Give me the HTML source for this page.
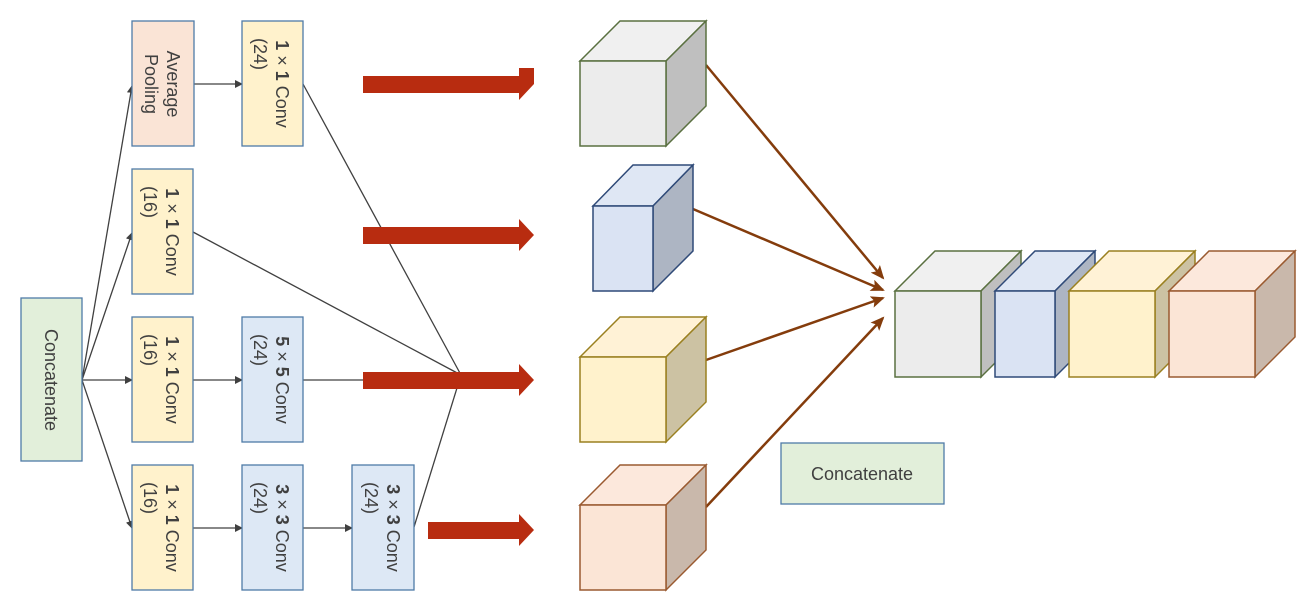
<!DOCTYPE html>
<html><head><meta charset="utf-8"><style>
html,body{margin:0;padding:0;background:#fff;}
svg{display:block;font-family:"Liberation Sans","DejaVu Sans",sans-serif;}
</style></head><body>
<svg width="1311" height="607" viewBox="0 0 1311 607" xmlns="http://www.w3.org/2000/svg">
<defs>
<marker id="ah" markerWidth="8" markerHeight="8" refX="7" refY="4" orient="auto" markerUnits="userSpaceOnUse"><path d="M0,0 L8,4 L0,8 z" fill="#404040"/></marker>
<marker id="bh" markerWidth="14" markerHeight="12" refX="12" refY="6" orient="auto" markerUnits="userSpaceOnUse"><path d="M0,0 L14,6 L0,12 L3,6 z" fill="#843c0c"/></marker>
</defs>
<!-- black connectors -->
<g stroke="#404040" stroke-width="1.3" fill="none">
<line x1="82" y1="380" x2="132" y2="86" marker-end="url(#ah)"/>
<line x1="82" y1="380" x2="132" y2="233" marker-end="url(#ah)"/>
<line x1="82" y1="380" x2="132" y2="380" marker-end="url(#ah)"/>
<line x1="82" y1="380" x2="132" y2="528" marker-end="url(#ah)"/>
<line x1="194" y1="84" x2="242" y2="84" marker-end="url(#ah)"/>
<line x1="193" y1="380" x2="242" y2="380" marker-end="url(#ah)"/>
<line x1="193" y1="528" x2="242" y2="528" marker-end="url(#ah)"/>
<line x1="303" y1="528" x2="352" y2="528" marker-end="url(#ah)"/>
<line x1="303" y1="84" x2="461" y2="375"/>
<line x1="193" y1="232" x2="461" y2="375"/>
<line x1="303" y1="380" x2="461" y2="380"/>
<line x1="414" y1="527" x2="461" y2="375"/>
</g>
<!-- boxes -->
<g stroke="#4f7ba7" stroke-width="1.3">
<rect x="132" y="21" width="62" height="125" fill="#fae4d6"/>
<rect x="242" y="21" width="61" height="125" fill="#fff2cc"/>
<rect x="132" y="169" width="61" height="125" fill="#fff2cc"/>
<rect x="132" y="317" width="61" height="125" fill="#fff2cc"/>
<rect x="242" y="317" width="61" height="125" fill="#dde8f5"/>
<rect x="132" y="465" width="61" height="125" fill="#fff2cc"/>
<rect x="242" y="465" width="61" height="125" fill="#dde8f5"/>
<rect x="352" y="465" width="62" height="125" fill="#dde8f5"/>
<rect x="21" y="298" width="61" height="163" fill="#e2efda"/>
<rect x="781" y="443" width="163" height="61" fill="#e2efda"/>
</g>
<g fill="#404040" font-size="18" text-anchor="middle">
<text transform="translate(163,84) rotate(90)"><tspan x="0" dy="-4">Average</tspan><tspan x="0" dy="22">Pooling</tspan></text>
<text transform="translate(272,84) rotate(90)"><tspan x="0" dy="-4"><tspan font-weight="bold">1</tspan> × <tspan font-weight="bold">1</tspan> Conv</tspan><tspan x="-30" dy="22">(24)</tspan></text>
<text transform="translate(162,232) rotate(90)"><tspan x="0" dy="-4"><tspan font-weight="bold">1</tspan> × <tspan font-weight="bold">1</tspan> Conv</tspan><tspan x="-30" dy="22">(16)</tspan></text>
<text transform="translate(162,380) rotate(90)"><tspan x="0" dy="-4"><tspan font-weight="bold">1</tspan> × <tspan font-weight="bold">1</tspan> Conv</tspan><tspan x="-30" dy="22">(16)</tspan></text>
<text transform="translate(272,380) rotate(90)"><tspan x="0" dy="-4"><tspan font-weight="bold">5</tspan> × <tspan font-weight="bold">5</tspan> Conv</tspan><tspan x="-30" dy="22">(24)</tspan></text>
<text transform="translate(162,528) rotate(90)"><tspan x="0" dy="-4"><tspan font-weight="bold">1</tspan> × <tspan font-weight="bold">1</tspan> Conv</tspan><tspan x="-30" dy="22">(16)</tspan></text>
<text transform="translate(272,528) rotate(90)"><tspan x="0" dy="-4"><tspan font-weight="bold">3</tspan> × <tspan font-weight="bold">3</tspan> Conv</tspan><tspan x="-30" dy="22">(24)</tspan></text>
<text transform="translate(383,528) rotate(90)"><tspan x="0" dy="-4"><tspan font-weight="bold">3</tspan> × <tspan font-weight="bold">3</tspan> Conv</tspan><tspan x="-30" dy="22">(24)</tspan></text>
<text transform="translate(51,380) rotate(90)" dy="6">Concatenate</text>
<text x="862" y="480">Concatenate</text>
</g>
<!-- red arrows -->
<g fill="#b82c10">
<path d="M363,76 H519 V68 H534 L534,84 L519,100 V93 H363 Z" transform="translate(0,0)"/>
<path d="M363,227 H519 V219 L534,235 L519,251 V244 H363 Z"/>
<path d="M363,372 H519 V364 L534,380 L519,396 V389 H363 Z"/>
<path d="M428,522 H519 V514 L534,530 L519,546 V539 H428 Z"/>
</g>
<!-- brown arrows -->
<g stroke="#843c0c" stroke-width="2.5" fill="none">
<line x1="706" y1="65" x2="883" y2="278" marker-end="url(#bh)"/>
<line x1="693" y1="209" x2="883" y2="290" marker-end="url(#bh)"/>
<line x1="706" y1="360" x2="883" y2="298" marker-end="url(#bh)"/>
<line x1="706" y1="507" x2="883" y2="318" marker-end="url(#bh)"/>
</g>
<!-- cubes -->
<g stroke-width="1.5" stroke-linejoin="miter">
<g stroke="#5a7040"><polygon points="580,61 620,21 706,21 666,61" fill="#f0f0f0"/><polygon points="666,61 706,21 706,106 666,146" fill="#bfbfbf"/><rect x="580" y="61" width="86" height="85" fill="#ececec"/></g>
<g stroke="#2f4a78"><polygon points="593,206 633,165 693,165 653,206" fill="#dfe7f4"/><polygon points="653,206 693,165 693,251 653,291" fill="#adb5c3"/><rect x="593" y="206" width="60" height="85" fill="#dae3f3"/></g>
<g stroke="#9a8020"><polygon points="580,357 620,317 706,317 666,357" fill="#fff2d6"/><polygon points="666,357 706,317 706,402 666,442" fill="#ccc2a3"/><rect x="580" y="357" width="86" height="85" fill="#fff2cc"/></g>
<g stroke="#9a5a30"><polygon points="580,505 620,465 706,465 666,505" fill="#fce8dc"/><polygon points="666,505 706,465 706,550 666,590" fill="#c9b8ab"/><rect x="580" y="505" width="86" height="85" fill="#fbe5d6"/></g>
<g stroke="#5a7040"><polygon points="895,291 935,251 1021,251 981,291" fill="#f0f0f0"/><polygon points="981,291 1021,251 1021,337 981,377" fill="#bfbfbf"/><rect x="895" y="291" width="86" height="86" fill="#ececec"/></g>
<g stroke="#2f4a78"><polygon points="995,291 1035,251 1095,251 1055,291" fill="#dfe7f4"/><polygon points="1055,291 1095,251 1095,337 1055,377" fill="#adb5c3"/><rect x="995" y="291" width="60" height="86" fill="#dae3f3"/></g>
<g stroke="#9a8020"><polygon points="1069,291 1109,251 1195,251 1155,291" fill="#fff2d6"/><polygon points="1155,291 1195,251 1195,337 1155,377" fill="#ccc2a3"/><rect x="1069" y="291" width="86" height="86" fill="#fff2cc"/></g>
<g stroke="#9a5a30"><polygon points="1169,291 1209,251 1295,251 1255,291" fill="#fce8dc"/><polygon points="1255,291 1295,251 1295,337 1255,377" fill="#c9b8ab"/><rect x="1169" y="291" width="86" height="86" fill="#fbe5d6"/></g>
</g>
</svg>
</body></html>
